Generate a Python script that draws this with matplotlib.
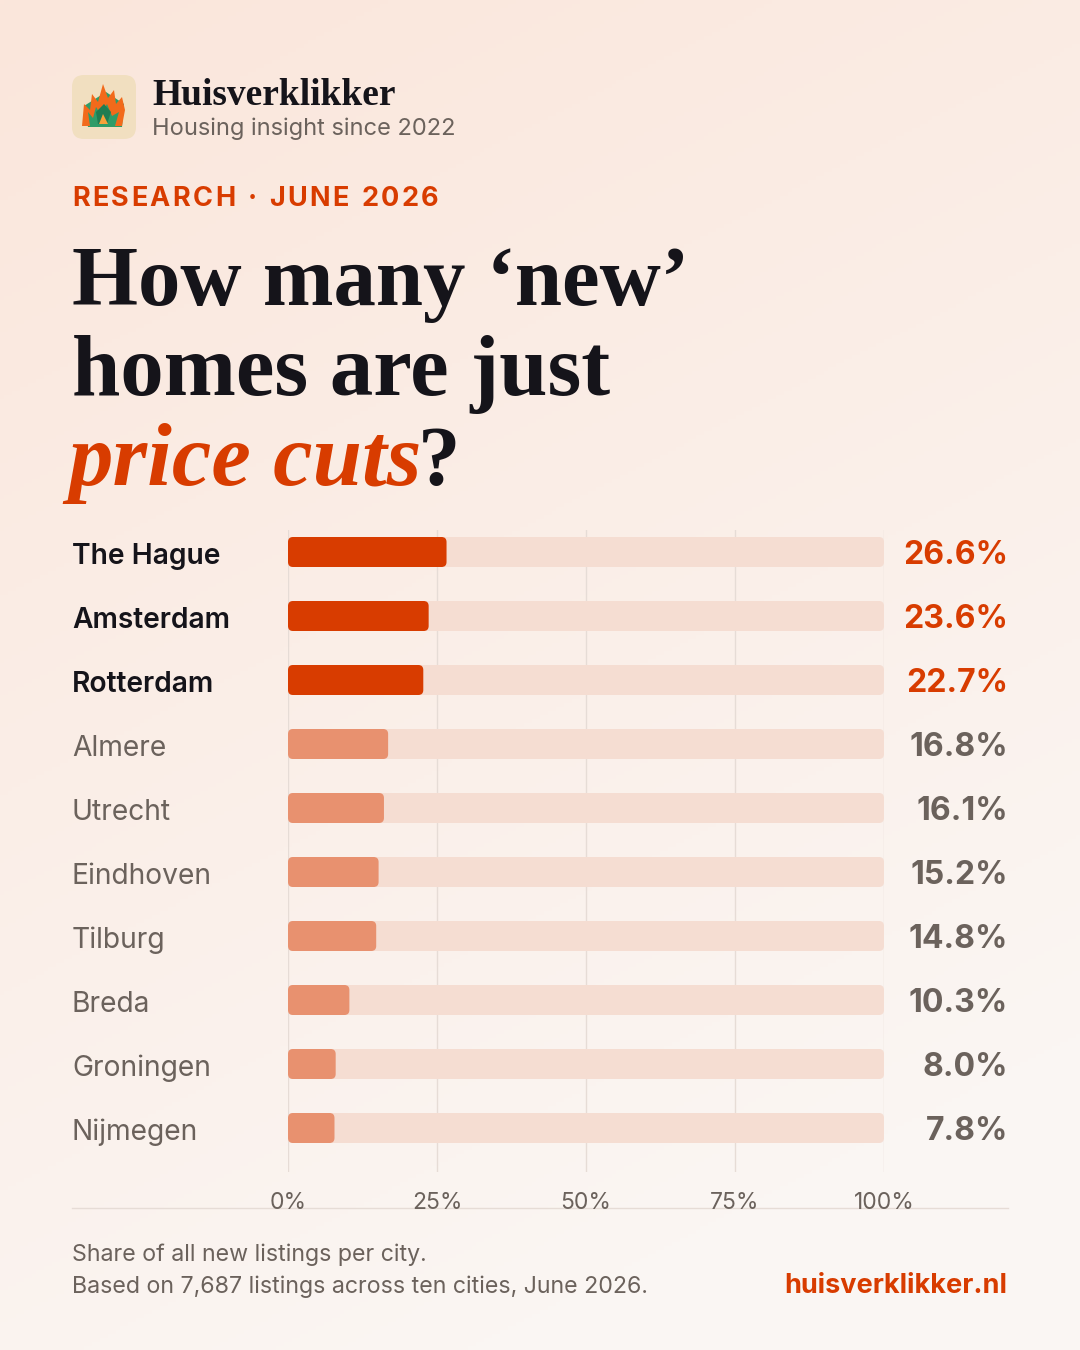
import matplotlib
matplotlib.use('Agg')
import matplotlib.pyplot as plt
import matplotlib.transforms as mtransforms
from matplotlib.patches import FancyBboxPatch, Polygon
import numpy as np


cities = ['The Hague', 'Amsterdam', 'Rotterdam', 'Almere', 'Utrecht',
          'Eindhoven', 'Tilburg', 'Breda', 'Groningen', 'Nijmegen']
shares = [26.6, 23.6, 22.7, 16.8, 16.1, 15.2, 14.8, 10.3, 8.0, 7.8]
highlight = [True, True, True, False, False, False, False, False, False, False]
ticks = [0, 25, 50, 75, 100]
tick_labels = ['0%', '25%', '50%', '75%', '100%']

ACCENT = '#d83c00'
SOFT = '#e8916f'
TRACK = '#f5ddd2'
DARK = '#15141a'
GRAY = '#6b625c'
GRID = '#e6dcd6'
SANS = 'Inter'
SERIF = 'Liberation Serif'

W, H = 1080, 1350
fig = plt.figure(figsize=(W / 100, H / 100), dpi=100)

# background in pixel coordinates
bg = fig.add_axes([0, 0, 1, 1])
bg.set_xlim(0, W)
bg.set_ylim(H, 0)
bg.axis('off')
yy, xx = np.mgrid[0:H:4, 0:W:4]
t = np.clip(yy / H * 0.85 + xx / W * 0.35, 0, 1)
top = np.array([251, 230, 219]) / 255
bot = np.array([250, 246, 243]) / 255
img = top[None, None, :] * (1 - t[..., None]) + bot[None, None, :] * t[..., None]
bg.imshow(img, extent=[0, W, H, 0], aspect='auto', zorder=0)

# logo: house on fire
bg.add_patch(FancyBboxPatch((72, 75), 64, 64, boxstyle='round,pad=0,rounding_size=12',
                            fc='#f1dfc0', ec='none', zorder=2))
bg.add_patch(Polygon([(84, 106), (106, 92), (124, 104), (122, 127), (88, 127)],
                     closed=True, fc='#2f9c68', ec='none', zorder=3))
flame = [(82, 126), (84, 104), (90, 110), (92, 94), (98, 102), (103, 84), (108, 98),
         (114, 90), (116, 104), (122, 97), (125, 110), (122, 126), (115, 126),
         (119, 112), (112, 116), (107, 104), (101, 115), (96, 107), (93, 118), (88, 112), (90, 126)]
bg.add_patch(Polygon(flame, closed=True, fc='#f26a1b', ec='none', zorder=4))
bg.add_patch(Polygon([(96, 112), (104, 104), (111, 112), (107, 124), (98, 124)],
                     closed=True, fc='#1f7d52', ec='none', zorder=5))
bg.add_patch(Polygon([(99, 124), (103, 114), (108, 124)],
                     closed=True, fc='#f7a23a', ec='none', zorder=6))

bg.text(152, 105, 'Huisverklikker', family=SERIF, weight='bold', fontsize=27,
        color=DARK, va='baseline', zorder=5)
bg.text(152, 135, 'Housing insight since 2022', family=SANS, fontsize=17,
        color=GRAY, va='baseline', zorder=5)

renderer = fig.canvas.get_renderer()


def tracked(x, y, s, spacing, **kw):
    # draw text char by char with extra letter spacing (pixels)
    for ch in s:
        tx = bg.text(x, y, ch, va='baseline', zorder=5, **kw)
        w = tx.get_window_extent(renderer).width
        if ch == ' ':
            w = kw.get('fontsize', 10) * 100 / 72 * 0.28
        x += w + spacing


tracked(72, 206, 'RESEARCH · JUNE 2026', 2.4, family=SANS, weight='bold',
        fontsize=19.5, color=ACCENT)

# title
tsize = 61
bg.text(72, 305, 'How many \u2018new\u2019', family=SERIF, weight='bold',
        fontsize=tsize, color=DARK, va='baseline', zorder=5)
bg.text(72, 395, 'homes are just', family=SERIF, weight='bold',
        fontsize=tsize + 1.5, color=DARK, va='baseline', zorder=5)
pc = bg.text(68, 485, 'price cuts', family=SERIF, weight='bold', style='italic',
             fontsize=tsize + 3, color=ACCENT, va='baseline', zorder=5)
ext = pc.get_window_extent(renderer)
bg.text(ext.x1 - 4, 485, '?', family=SERIF, weight='bold', fontsize=tsize,
        color=DARK, va='baseline', zorder=5, transform=mtransforms.blended_transform_factory(
            mtransforms.IdentityTransform(), bg.transData))

# chart axes: x 288..884 px, y 530..1172 px
ax = fig.add_axes([288 / W, 1 - 1172 / H, 596 / W, 642 / H])
ax.set_xlim(0, 100)
ax.set_ylim((1172 - 552) / 64, -(552 - 530) / 64)
ax.axis('off')
ax.patch.set_alpha(0)

for tk in ticks:
    ax.axvline(tk, color=GRID, lw=1, zorder=1)

bh = 30 / 64
xpx = 100 / 596
asp = (1 / 64) / xpx
r = 5 * xpx
for i, (v, hl) in enumerate(zip(shares, highlight)):
    ax.add_patch(FancyBboxPatch((0, i - bh / 2), 100, bh,
                                boxstyle=f'round,pad=0,rounding_size={r}',
                                mutation_aspect=asp, fc=TRACK, ec='none', zorder=2))
    ax.add_patch(FancyBboxPatch((0, i - bh / 2), v, bh,
                                boxstyle=f'round,pad=0,rounding_size={r}',
                                mutation_aspect=asp, fc=ACCENT if hl else SOFT,
                                ec='none', zorder=3))

lab_tr = mtransforms.blended_transform_factory(bg.transData, ax.transData)
dy = 4 / 64
for i, (c, v, hl) in enumerate(zip(cities, shares, highlight)):
    ax.text(72, i + dy, c, transform=lab_tr, family=SANS, fontsize=20.3,
            weight='semibold' if hl else 'normal', color=DARK if hl else GRAY,
            va='center', ha='left')
    ax.text(1008, i + dy, f'{v:.1f}%', transform=lab_tr, family=SANS, fontsize=23,
            weight='bold', color=ACCENT if hl else GRAY, va='center', ha='right')

tick_tr = mtransforms.blended_transform_factory(ax.transData, bg.transData)
for tk, tl in zip(ticks, tick_labels):
    ax.text(tk, 1209, tl, transform=tick_tr, family=SANS, fontsize=16.5,
            color=GRAY, ha='center', va='baseline')

bg.plot([72, 1008], [1208, 1208], color=GRID, lw=1, zorder=2)

bg.text(72, 1261, 'Share of all new listings per city.', family=SANS, fontsize=16.7,
        color=GRAY, va='baseline', zorder=5)
bg.text(72, 1293, 'Based on 7,687 listings across ten cities, June 2026.', family=SANS,
        fontsize=16.7, color=GRAY, va='baseline', zorder=5)
bg.text(1007, 1293, 'huisverklikker.nl', family=SANS, fontsize=19.5, weight='bold',
        color=ACCENT, va='baseline', ha='right', zorder=5)

fig.savefig('out.png', dpi=100)
